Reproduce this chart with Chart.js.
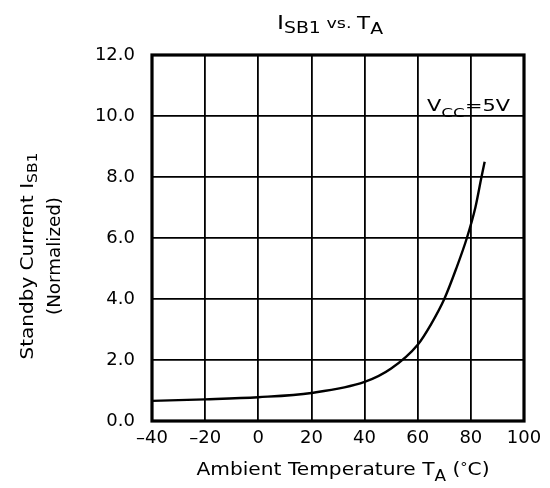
<!DOCTYPE html>
<html>
<head>
<meta charset="utf-8">
<script src="https://cdn.jsdelivr.net/npm/chart.js@4/dist/chart.umd.min.js"></script>
<style>
  html, body { margin: 0; padding: 0; background: #fff; }
  #c { display: block; }
</style>
</head>
<body>
<canvas id="c" width="550" height="488"></canvas>
<script>
// ---- data ----
const temps   = [-40, -20, 0, 20, 40, 50, 60, 65, 70, 74.5, 78.5, 81.7, 84, 85.2];
const current = [0.66, 0.71, 0.78, 0.92, 1.28, 1.72, 2.5, 3.17, 4.0, 5.0, 6.0, 7.0, 8.0, 8.5];
const xTickLabels = ['\u201340', '\u201320', '0', '20', '40', '60', '80', '100'];
const yTickLabels = ['0.0', '2.0', '4.0', '6.0', '8.0', '10.0', '12.0'];

const FONT = '"DejaVu Sans", "Liberation Sans", Arial, sans-serif';

function partsWidth(ctx, parts) {
  let w = 0;
  for (const p of parts) { ctx.font = p.size + 'px ' + FONT; w += ctx.measureText(p.t).width; }
  return w;
}
// draw rich text at baseline (x,y); align 'center' or 'left'; optionally fit to target width
function drawRich(ctx, parts, x, y, align, target) {
  const w = partsWidth(ctx, parts);
  const sx = target ? target / w : 1;
  ctx.save();
  ctx.translate(x, y);
  ctx.scale(sx, 1);
  let cx = align === 'center' ? -w / 2 : 0;
  ctx.fillStyle = '#000';
  ctx.textBaseline = 'alphabetic';
  ctx.textAlign = 'left';
  for (const p of parts) {
    ctx.font = p.size + 'px ' + FONT;
    ctx.fillText(p.t, cx, p.dy || 0);
    cx += ctx.measureText(p.t).width;
  }
  ctx.restore();
}

const textPlugin = {
  id: 'texts',
  afterDraw(chart) {
    const ctx = chart.ctx;
    const a = chart.chartArea;
    // plot border
    ctx.save();
    ctx.strokeStyle = '#000';
    ctx.lineWidth = 3.2;
    ctx.strokeRect(a.left, a.top, a.right - a.left, a.bottom - a.top);
    ctx.restore();

    // title
    drawRich(ctx, [
      {t: 'I', size: 19},
      {t: 'SB1', size: 15, dy: 4},
      {t: ' vs. ', size: 14, dy: -1},
      {t: 'T', size: 17},
      {t: 'A', size: 15, dy: 5}
    ], 330, 29, 'center', 106);

    // x-axis title
    drawRich(ctx, [
      {t: 'Ambient Temperature T', size: 18},
      {t: 'A', size: 15, dy: 6},
      {t: ' (', size: 18},
      {t: '\u00B0', size: 13, dy: -4},
      {t: 'C)', size: 18}
    ], 343, 475, 'center', 293);

    // y-axis titles (rotated)
    ctx.save();
    ctx.translate(33, 256);
    ctx.rotate(-Math.PI / 2);
    drawRich(ctx, [
      {t: 'Standby Current I', size: 18},
      {t: 'SB1', size: 14, dy: 4}
    ], 0, 0, 'center', 207);
    ctx.restore();
    ctx.save();
    ctx.translate(60, 256);
    ctx.rotate(-Math.PI / 2);
    drawRich(ctx, [{t: '(Normalized)', size: 18}], 0, 0, 'center', 118);
    ctx.restore();

    // V_CC label
    drawRich(ctx, [
      {t: 'V', size: 16},
      {t: 'CC', size: 13, dy: 6},
      {t: '=5V', size: 16}
    ], 427, 111, 'left', 83);
  }
};

new Chart(document.getElementById('c'), {
  type: 'line',
  data: {
    datasets: [{
      data: temps.map((t, i) => ({x: t, y: current[i]})),
      borderColor: '#000',
      borderWidth: 2.4,
      pointRadius: 0,
      fill: false,
      cubicInterpolationMode: 'monotone'
    }]
  },
  options: {
    responsive: false,
    animation: false,
    layout: {padding: {left: 0, top: 55, right: 26, bottom: 0}},
    plugins: {legend: {display: false}, tooltip: {enabled: false}, title: {display: false}},
    scales: {
      x: {
        type: 'linear', min: -40, max: 100,
        afterFit(s) { s.height = 67; },
        grid: {color: '#000', lineWidth: 1.8, drawTicks: false},
        border: {display: false},
        ticks: {
          stepSize: 20, autoSkip: false, maxRotation: 0, minRotation: 0,
          padding: 7, color: '#000',
          font: {family: FONT, size: 18},
          callback: (v, i) => xTickLabels[i]
        }
      },
      y: {
        type: 'linear', min: 0, max: 12,
        afterFit(s) { s.width = 152; },
        grid: {color: '#000', lineWidth: 1.8, drawTicks: false},
        border: {display: false},
        ticks: {
          stepSize: 2, padding: 17, color: '#000',
          font: {family: FONT, size: 18},
          callback: (v, i) => yTickLabels[i]
        }
      }
    }
  },
  plugins: [textPlugin]
});
</script>
</body>
</html>
